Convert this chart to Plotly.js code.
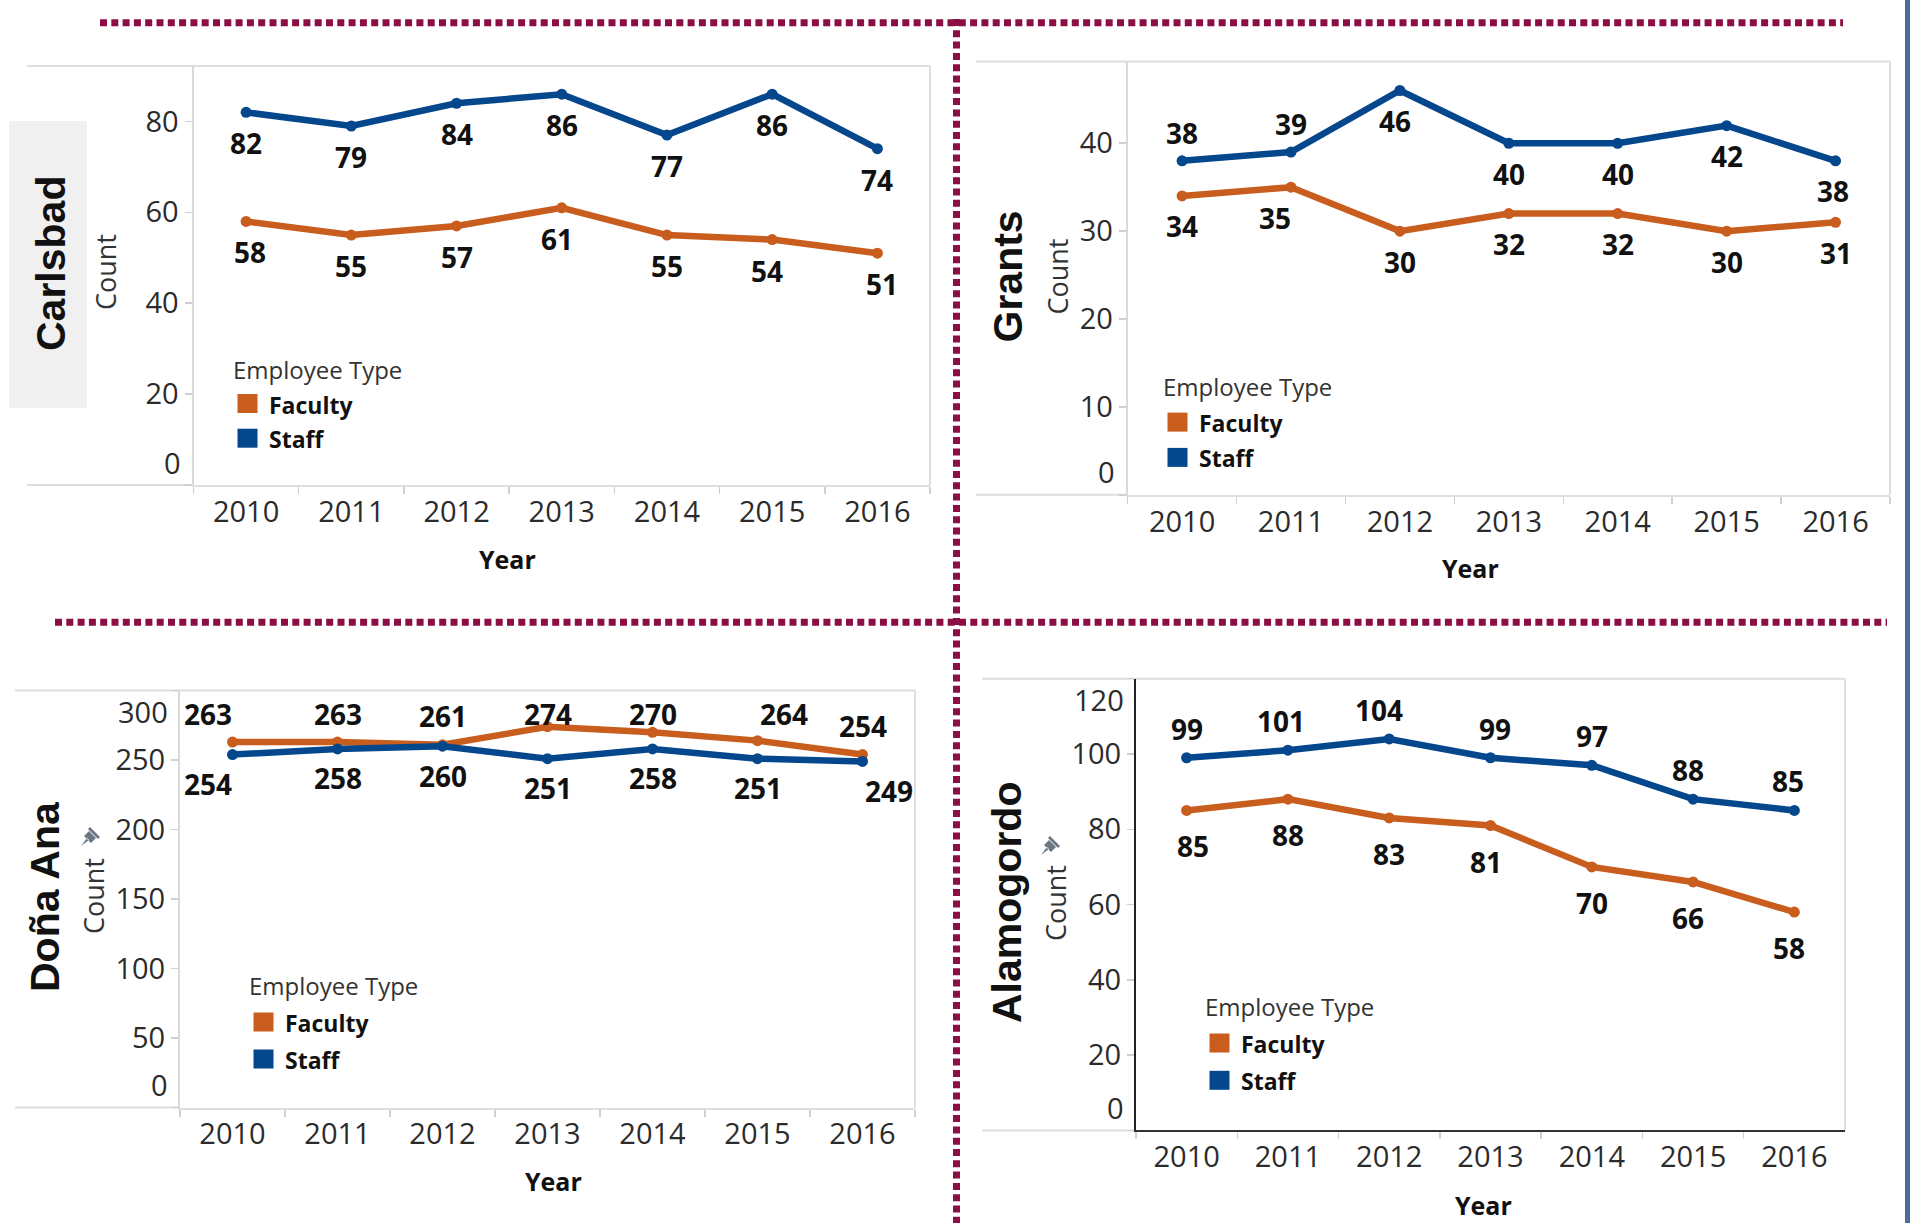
<!DOCTYPE html>
<html>
<head>
<meta charset="utf-8">
<script src="https://cdn.plot.ly/plotly-3.0.1.min.js"></script>
<style>
  html, body { margin: 0; padding: 0; background: #ffffff; }
  #chart { width: 1910px; height: 1223px; }
</style>
</head>
<body>
<div id="chart"></div>
<script>
// ---------- data ----------
const years = ['2010', '2011', '2012', '2013', '2014', '2015', '2016'];
const seriesNames = ['Faculty', 'Staff'];
const legendTitle = 'Employee Type';

const carlsbadFaculty = [58, 55, 57, 61, 55, 54, 51];
const carlsbadStaff   = [82, 79, 84, 86, 77, 86, 74];

const grantsFaculty = [34, 35, 30, 32, 32, 30, 31];
const grantsStaff   = [38, 39, 46, 40, 40, 42, 38];

const donaAnaFaculty = [263, 263, 261, 274, 270, 264, 254];
const donaAnaStaff   = [254, 258, 260, 251, 258, 251, 249];

const alamogordoFaculty = [85, 88, 83, 81, 70, 66, 58];
const alamogordoStaff   = [99, 101, 104, 99, 97, 88, 85];

const carlsbadTicks   = [0, 20, 40, 60, 80];
const grantsTicks     = [0, 10, 20, 30, 40];
const donaAnaTicks    = [0, 50, 100, 150, 200, 250, 300];
const alamogordoTicks = [0, 20, 40, 60, 80, 100, 120];

// ---------- styling / layout ----------
const W = 1910, H = 1223;
const px = x => x / W;
const py = y => 1 - y / H;
const FONT = 'Open Sans, Noto Sans, sans-serif';
const TITLE_FONT = 'Liberation Sans, Arial, sans-serif';
const colors = { Faculty: '#c85d1e', Staff: '#05478c' };
const tickFont = { family: FONT, size: 29, color: '#2b2b2b' };

const panels = [
  { name: 'Carlsbad', faculty: carlsbadFaculty, staff: carlsbadStaff,
    ymax: 92.2, ticks: carlsbadTicks,
    frameL: 27, axisL: 193.5, right: 930, top: 66, bottom: 485,
    titleX: 51, titleY: 264, box: [9, 87, 121, 408],
    countX: 106, countY: 272, pin: null,
    legX: 231, legTitleY: 369, legRows: [403.5, 438.2],
    yearX: 508, yearY: 559, axisColor: '#d9d9d9',
    facSide:   ['b','b','b','b','b','b','b'],
    staffSide: ['b','b','b','b','b','b','b'],
    facNudge:   [4,0,0,-5,0,-5,5],
    staffNudge: [0,0,0,0,0,0,0],
    above: 29, below: 31 },
  { name: 'Grants', faculty: grantsFaculty, staff: grantsStaff,
    ymax: 49.3, ticks: grantsTicks,
    frameL: 976, axisL: 1127.6, right: 1890, top: 61.5, bottom: 494.8,
    titleX: 1007, titleY: 276.5, box: null,
    countX: 1057, countY: 276.5, pin: null,
    legX: 1161, legTitleY: 386.5, legRows: [422.1, 457.4],
    yearX: 1470.5, yearY: 568, axisColor: '#d9d9d9',
    facSide:   ['b','b','b','b','b','b','b'],
    staffSide: ['a','a','b','b','b','b','b'],
    facNudge:   [0,-16,0,0,0,0,0],
    staffNudge: [0,0,-5,0,0,0,-3],
    above: 28, below: 30.5 },
  { name: 'Doña Ana', faculty: donaAnaFaculty, staff: donaAnaStaff,
    ymax: 300, ticks: donaAnaTicks,
    frameL: 15, axisL: 180, right: 915, top: 690.6, bottom: 1107.5,
    titleX: 45, titleY: 897, box: null,
    countX: 93, countY: 896, pin: [90, 837],
    legX: 247, legTitleY: 985.4, legRows: [1022, 1059],
    yearX: 553, yearY: 1181, axisColor: '#d9d9d9',
    facSide:   ['a','a','a','a','a','a','a'],
    staffSide: ['b','b','b','b','b','b','b'],
    facNudge:   [-25,0,0,0,0,26,0],
    staffNudge: [-25,0,0,0,0,0,26],
    above: 29, below: 29.5 },
  { name: 'Alamogordo', faculty: alamogordoFaculty, staff: alamogordoStaff,
    ymax: 120, ticks: alamogordoTicks,
    frameL: 982, axisL: 1136, right: 1845, top: 678.7, bottom: 1130.4,
    titleX: 1007, titleY: 903, box: null,
    countX: 1055, countY: 903, pin: [1050, 846],
    legX: 1203, legTitleY: 1006, legRows: [1043, 1080.3],
    yearX: 1483, yearY: 1205, axisColor: '#222222',
    facSide:   ['b','b','b','b','b','b','b'],
    staffSide: ['a','a','a','a','a','a','a'],
    facNudge:   [6,0,0,-5,0,-5,-5],
    staffNudge: [0,-7,-10,4,0,-5,-6],
    above: 29, below: 36 }
];

const traces = [];
const annotations = [];
const shapes = [];
const layout = {
  width: W, height: H,
  margin: { l: 0, r: 0, t: 0, b: 0 },
  paper_bgcolor: '#ffffff', plot_bgcolor: 'rgba(0,0,0,0)',
  showlegend: false,
  font: { family: FONT, color: '#333333' },
  annotations: annotations, shapes: shapes
};

const frameColor = '#dedede';

panels.forEach((p, i) => {
  const k = i === 0 ? '' : String(i + 1);
  const xa = 'x' + k, ya = 'y' + k;

  // edge tick labels are kept inside the pane (as the original tool does)
  const isEdge = t => t === 0 || Math.abs(t - p.ymax) < 1e-6;

  layout['xaxis' + k] = {
    domain: [px(p.axisL), px(p.right)], anchor: ya,
    type: 'category', categoryorder: 'array', categoryarray: years,
    range: [-0.5, years.length - 0.5],
    showgrid: false, zeroline: false,
    showline: true, linecolor: p.axisColor === '#222222' ? '#333333' : frameColor, linewidth: 2,
    ticks: 'outside', tickson: 'boundaries', ticklen: 7, tickwidth: 1.5, tickcolor: '#cfcfcf',
    tickfont: tickFont,
    fixedrange: true
  };
  layout['yaxis' + k] = {
    domain: [py(p.bottom), py(p.top)], anchor: xa,
    range: [0, p.ymax],
    tickmode: 'array', tickvals: p.ticks,
    ticktext: p.ticks.map(t => isEdge(t) ? ' ' : String(t)),
    showgrid: false, zeroline: false,
    showline: true, linecolor: p.axisColor, linewidth: 2,
    ticks: 'outside', ticklen: 7, tickwidth: 1.5, tickcolor: '#cfcfcf',
    tickfont: tickFont,
    fixedrange: true
  };
  p.ticks.filter(isEdge).forEach(t => {
    annotations.push({
      xref: 'paper', yref: ya, x: px(p.axisL - 10.5), y: t,
      text: String(t), showarrow: false, xanchor: 'right', yanchor: 'middle',
      yshift: t === 0 ? 23 : -21, font: tickFont
    });
  });

  // frame lines
  shapes.push({ type: 'line', xref: 'paper', yref: 'paper', layer: 'below',
    x0: px(p.frameL), x1: px(p.right), y0: py(p.top), y1: py(p.top),
    line: { color: frameColor, width: 2 } });
  shapes.push({ type: 'line', xref: 'paper', yref: 'paper', layer: 'below',
    x0: px(p.frameL), x1: px(p.axisL), y0: py(p.bottom), y1: py(p.bottom),
    line: { color: frameColor, width: 2 } });
  shapes.push({ type: 'line', xref: 'paper', yref: 'paper', layer: 'below',
    x0: px(p.right), x1: px(p.right), y0: py(p.top), y1: py(p.bottom),
    line: { color: frameColor, width: 2 } });

  // highlighted title box
  if (p.box) {
    shapes.push({ type: 'rect', xref: 'paper', yref: 'paper', layer: 'below',
      x0: px(p.box[0]), x1: px(p.box[1]), y0: py(p.box[3]), y1: py(p.box[2]),
      fillcolor: '#f0f0f0', line: { width: 0 } });
  }

  // series
  const seriesData = { Faculty: p.faculty, Staff: p.staff };
  const sides = { Faculty: p.facSide, Staff: p.staffSide };
  const nudges = { Faculty: p.facNudge, Staff: p.staffNudge };
  const pxPerUnit = (p.bottom - p.top) / p.ymax;

  seriesNames.forEach(s => {
    traces.push({
      type: 'scatter', mode: 'lines+markers', name: s,
      x: years, y: seriesData[s], xaxis: xa, yaxis: ya,
      line: { color: colors[s], width: 6.5 },
      marker: { color: colors[s], size: 11 },
      hoverinfo: 'x+y+name', cliponaxis: false
    });
    seriesData[s].forEach((v, j) => {
      const pointY = p.bottom - v * pxPerUnit;
      let shift;
      if (sides[s][j] === 'a') {
        const centerY = Math.max(pointY - p.above, p.top + 23);
        shift = pointY - centerY;
      } else {
        shift = -p.below;
      }
      annotations.push({
        xref: xa, yref: ya, x: j, y: v, text: '<b>' + v + '</b>',
        showarrow: false, xanchor: 'center', yanchor: 'middle',
        yshift: shift, xshift: nudges[s][j],
        font: { family: FONT, size: 28, color: '#111111' }
      });
    });
  });

  // panel title
  annotations.push({
    xref: 'paper', yref: 'paper', x: px(p.titleX), y: py(p.titleY),
    text: '<b>' + p.name + '</b>', textangle: -90, showarrow: false,
    xanchor: 'center', yanchor: 'middle',
    font: { family: TITLE_FONT, size: 41, color: '#111111' }
  });
  // y-axis title
  annotations.push({
    xref: 'paper', yref: 'paper', x: px(p.countX), y: py(p.countY),
    text: 'Count', textangle: -90, showarrow: false,
    xanchor: 'center', yanchor: 'middle',
    font: { family: FONT, size: 27, color: '#333333' }
  });
  // x-axis title
  annotations.push({
    xref: 'paper', yref: 'paper', x: px(p.yearX), y: py(p.yearY),
    text: '<b>Year</b>', showarrow: false,
    xanchor: 'center', yanchor: 'middle',
    font: { family: FONT, size: 25, color: '#111111' }
  });
  // pin icon
  if (p.pin) {
    shapes.push({ type: 'path', xref: 'paper', yref: 'paper',
      xsizemode: 'pixel', ysizemode: 'pixel',
      xanchor: px(p.pin[0]), yanchor: py(p.pin[1]),
      path: 'M-9,-9 L-1,-3 L-3,-1 Z M-6,1 L1,-6 L6,-1 L-1,6 Z M-2,8 L8,-2 L10,0 L0,10 Z',
      fillcolor: '#6b7785', line: { width: 0 } });
  }

  // legend
  annotations.push({
    xref: 'paper', yref: 'paper', x: px(p.legX), y: py(p.legTitleY),
    text: legendTitle, showarrow: false, xanchor: 'left', yanchor: 'middle',
    font: { family: FONT, size: 24, color: '#333333' }
  });
  seriesNames.forEach((s, r) => {
    const cy = p.legRows[r];
    shapes.push({ type: 'rect', xref: 'paper', yref: 'paper',
      x0: px(p.legX + 6.5), x1: px(p.legX + 26.5),
      y0: py(cy + 9.5), y1: py(cy - 9.5),
      fillcolor: colors[s], line: { width: 0 } });
    annotations.push({
      xref: 'paper', yref: 'paper', x: px(p.legX + 36), y: py(cy + 1),
      text: '<b>' + s + '</b>', showarrow: false, xanchor: 'left', yanchor: 'middle',
      font: { family: FONT, size: 23, color: '#111111' }
    });
  });
});

// dotted separators
const dotLine = { color: '#8b0f45', width: 7, dash: '7px,4.3px' };
shapes.push({ type: 'line', xref: 'paper', yref: 'paper',
  x0: px(100), x1: px(1843), y0: py(22.7), y1: py(22.7), line: dotLine });
shapes.push({ type: 'line', xref: 'paper', yref: 'paper',
  x0: px(956.5), x1: px(956.5), y0: py(19), y1: py(1223), line: dotLine });
shapes.push({ type: 'line', xref: 'paper', yref: 'paper',
  x0: px(55), x1: px(1887), y0: py(622.3), y1: py(622.3), line: dotLine });
// right edge band
shapes.push({ type: 'rect', xref: 'paper', yref: 'paper',
  x0: px(1905), x1: px(1910), y0: 0, y1: 1,
  fillcolor: '#4a6e99', line: { width: 0 } });

Plotly.newPlot('chart', traces, layout, { staticPlot: true, displayModeBar: false });
</script>
</body>
</html>
